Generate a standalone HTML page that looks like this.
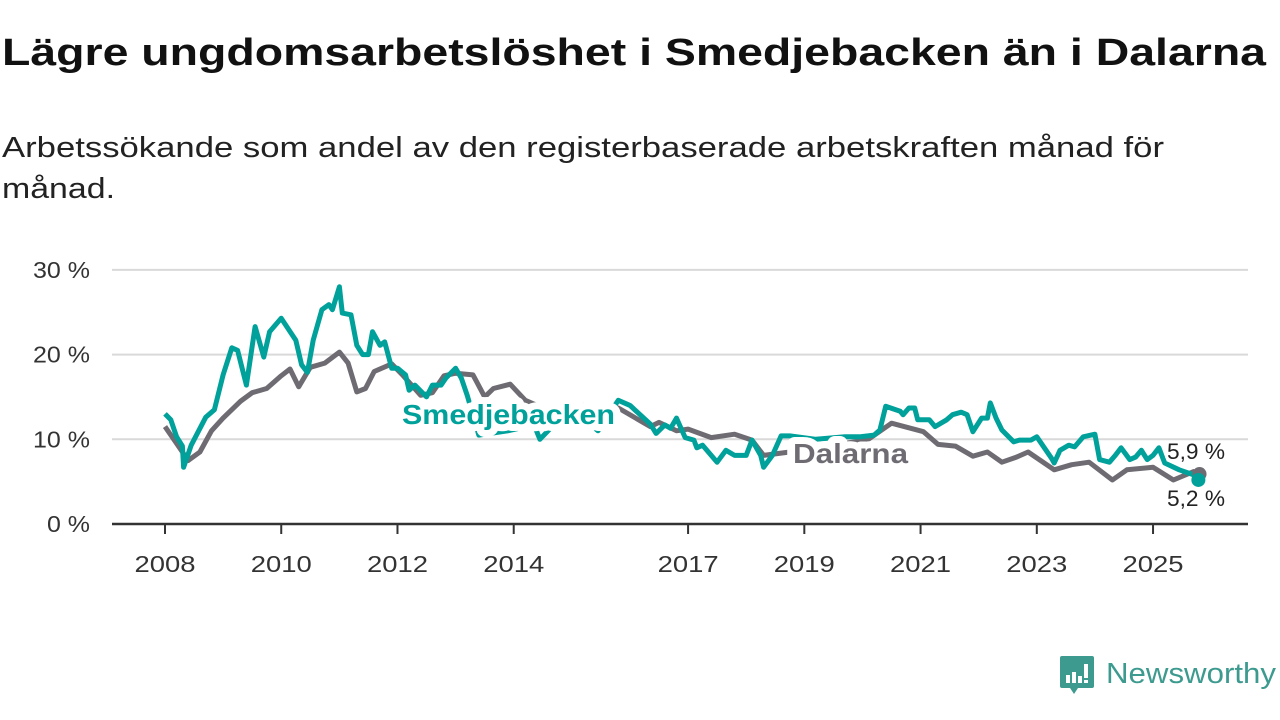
<!DOCTYPE html>
<html><head><meta charset="utf-8"><style>
html,body{margin:0;padding:0;background:#fff;width:1280px;height:720px;overflow:hidden}
svg{display:block;font-family:"Liberation Sans",sans-serif}
</style></head><body>
<svg id="chart" width="1280" height="720" viewBox="0 0 1280 720">
<text x="2" y="65" font-size="38" font-weight="bold" fill="#111" textLength="1264" lengthAdjust="spacingAndGlyphs">Lägre ungdomsarbetslöshet i Smedjebacken än i Dalarna</text>
<text x="2" y="157" font-size="29" fill="#222" textLength="1162" lengthAdjust="spacingAndGlyphs">Arbetssökande som andel av den registerbaserade arbetskraften månad för</text>
<text x="2" y="198" font-size="29" fill="#222" textLength="113" lengthAdjust="spacingAndGlyphs">månad.</text>
<g id="grid"></g><g id="axes"></g><g id="lines"></g><g id="labels"></g>
<g>
<path d="M1062 656 h30 a2 2 0 0 1 2 2 v28 a2 2 0 0 1 -2 2 h-14 l-4 6 l-4 -6 h-8 a2 2 0 0 1 -2 -2 v-28 a2 2 0 0 1 2 -2z" fill="#3d9a8f"/>
<rect x="1066" y="675" width="4" height="8" fill="#fff"/><rect x="1072" y="672" width="4" height="11" fill="#fff"/><rect x="1078" y="676" width="4" height="7" fill="#fff"/><rect x="1084" y="664" width="4" height="14" fill="#fff"/><rect x="1084" y="680" width="4" height="3" fill="#fff"/>
<text x="1106" y="683" font-size="29" fill="#3d9a8f" textLength="170" lengthAdjust="spacingAndGlyphs">Newsworthy</text>
</g>
</svg>
<script>
const yTicks=[0,10,20,30];
const yTickLabels=["0 %","10 %","20 %","30 %"];
const xTicks=[2008,2010,2012,2014,2017,2019,2021,2023,2025];
const dalarnaT=[2008.0,2008.2,2008.4,2008.6,2008.8,2009.0,2009.3,2009.5,2009.75,2010.0,2010.15,2010.3,2010.5,2010.75,2011.0,2011.15,2011.3,2011.45,2011.6,2011.9,2012.1,2012.4,2012.6,2012.8,2013.0,2013.3,2013.5,2013.65,2013.94,2014.2,2014.4,2014.8,2015.2,2015.5,2015.8,2016.35,2016.5,2016.8,2017.0,2017.4,2017.8,2018.1,2018.3,2018.75,2019.2,2019.7,2020.1,2020.5,2021.05,2021.3,2021.6,2021.9,2022.15,2022.4,2022.65,2022.85,2023.3,2023.6,2023.9,2024.3,2024.55,2025.0,2025.35,2025.7,2025.8];
const dalarnaV=[11.5,9.5,7.5,8.5,11,12.5,14.5,15.5,16,17.5,18.3,16.2,18.5,19,20.3,19,15.6,16,18,18.9,17.5,15.2,15.5,17.5,17.8,17.6,15,16,16.5,14.6,14,13.5,14,13.8,13.7,11.5,12,11,11.2,10.2,10.6,9.9,8.1,8.5,9,9.5,10,11.9,10.9,9.4,9.2,8,8.5,7.3,7.9,8.5,6.4,7,7.3,5.2,6.4,6.7,5.2,6.2,5.9];
const smedT=[2008.0,2008.1,2008.2,2008.3,2008.32,2008.45,2008.7,2008.85,2009.0,2009.15,2009.25,2009.4,2009.55,2009.7,2009.8,2010.0,2010.25,2010.35,2010.45,2010.55,2010.7,2010.82,2010.88,2011.0,2011.05,2011.2,2011.3,2011.4,2011.5,2011.57,2011.7,2011.78,2011.9,2012.0,2012.14,2012.2,2012.3,2012.5,2012.6,2012.75,2012.83,2013.0,2013.1,2013.2,2013.4,2013.9,2014.35,2014.45,2014.8,2015.1,2015.45,2015.8,2016.0,2016.35,2016.45,2016.6,2016.7,2016.8,2016.95,2017.1,2017.15,2017.25,2017.5,2017.65,2017.8,2018.0,2018.1,2018.25,2018.3,2018.45,2018.6,2018.75,2019.2,2019.7,2019.95,2020.2,2020.3,2020.4,2020.65,2020.7,2020.8,2020.9,2020.95,2021.15,2021.25,2021.45,2021.55,2021.7,2021.8,2021.9,2022.05,2022.15,2022.2,2022.3,2022.4,2022.6,2022.7,2022.9,2023.0,2023.25,2023.3,2023.4,2023.55,2023.65,2023.8,2024.0,2024.08,2024.25,2024.35,2024.45,2024.6,2024.7,2024.8,2024.9,2025.0,2025.1,2025.2,2025.45,2025.7,2025.78];
const smedV=[13,12.3,10.3,9.2,6.7,9.3,12.6,13.5,17.6,20.8,20.5,16.4,23.3,19.7,22.7,24.3,21.7,18.8,17.9,21.7,25.3,25.9,25.3,28,24.9,24.7,21.1,20,20,22.7,21.1,21.5,18.4,18.4,17.6,15.8,16.4,15,16.4,16.4,17.2,18.4,17.2,15.2,10.5,11,11.7,10,12.5,13,11,14.6,14,11.8,10.7,11.7,11.3,12.5,10.2,9.9,9,9.3,7.3,8.7,8.1,8.1,9.9,8.1,6.7,8.1,10.4,10.4,10,10.3,10.3,10.5,11.1,13.9,13.3,12.9,13.7,13.7,12.3,12.3,11.5,12.3,12.9,13.2,12.9,10.9,12.5,12.5,14.3,12.5,11.1,9.7,9.9,9.9,10.3,7.8,7.2,8.7,9.3,9.1,10.3,10.6,7.6,7.3,8.1,9,7.6,7.9,8.7,7.6,8.1,9,7.2,6.4,5.8,5.2];
const NS='http://www.w3.org/2000/svg';
const X=t=>165+(t-2008)*58.12;
const Y=v=>524-v*8.47;
function mk(tag,attrs,parent){const e=document.createElementNS(NS,tag);for(const k in attrs)e.setAttribute(k,attrs[k]);parent.appendChild(e);return e;}
const grid=document.getElementById('grid'),axes=document.getElementById('axes'),lines=document.getElementById('lines'),labels=document.getElementById('labels');
yTicks.forEach((v,i)=>{
  if(v>0){const g=mk('line',{x1:112,x2:1248,y1:Y(v),y2:Y(v),stroke:'#d9d9d9','stroke-width':2},grid);
  
  }
  const t=mk('text',{x:90,y:Y(v)+8,'font-size':23,fill:'#333','text-anchor':'end',textLength:(yTickLabels[i].length*14.3).toFixed(0),lengthAdjust:'spacingAndGlyphs'},axes);t.textContent=yTickLabels[i];
  
  
});
const ax=mk('line',{x1:112,x2:1248,y1:Y(0),y2:Y(0),stroke:'#333','stroke-width':2.5},axes);


xTicks.forEach(yr=>{
  mk('line',{x1:X(yr),x2:X(yr),y1:Y(0),y2:Y(0)+10,stroke:'#333','stroke-width':2},axes);
  const t=mk('text',{x:X(yr),y:572,'font-size':23,fill:'#333','text-anchor':'middle',textLength:61,lengthAdjust:'spacingAndGlyphs'},axes);t.textContent=yr;
  
  
});
function path(T,V){return T.map((t,i)=>(i?'L':'M')+X(t).toFixed(1)+' '+Y(V[i]).toFixed(1)).join(' ');}
const pd=mk('path',{d:path(dalarnaT,dalarnaV),fill:'none',stroke:'#6e6c72','stroke-width':5,'stroke-linejoin':'round'},lines);


const ps=mk('path',{d:path(smedT,smedV),fill:'none',stroke:'#00a19a','stroke-width':5,'stroke-linejoin':'round'},lines);


const d1=mk('circle',{cx:X(dalarnaT[dalarnaT.length-1]),cy:Y(dalarnaV[dalarnaV.length-1]),r:7,fill:'#6e6c72'},lines);


const d2=mk('circle',{cx:X(smedT[smedT.length-1]),cy:Y(smedV[smedV.length-1]),r:7,fill:'#00a19a'},lines);


function lbl(txt,x,y,size,col,bold,len,name){
  const t=mk('text',{x:x,y:y,'font-size':size,fill:col,'font-weight':bold?'bold':'normal',stroke:'#fff','stroke-width':bold?14:6,'paint-order':'stroke','stroke-linejoin':'round',textLength:len,lengthAdjust:'spacingAndGlyphs'},labels);
  t.textContent=txt;
  
  
}
lbl('Smedjebacken',402,424,28,'#00a19a',true,213,'smedjebacken-label');
lbl('Dalarna',793,463,28,'#6e6c72',true,115,'dalarna-label');
lbl('5,9 %',1167,459,22,'#222',false,58,'dalarna-end-value');
lbl('5,2 %',1167,506,22,'#222',false,58,'smedjebacken-end-value');
</script>
</body></html>
